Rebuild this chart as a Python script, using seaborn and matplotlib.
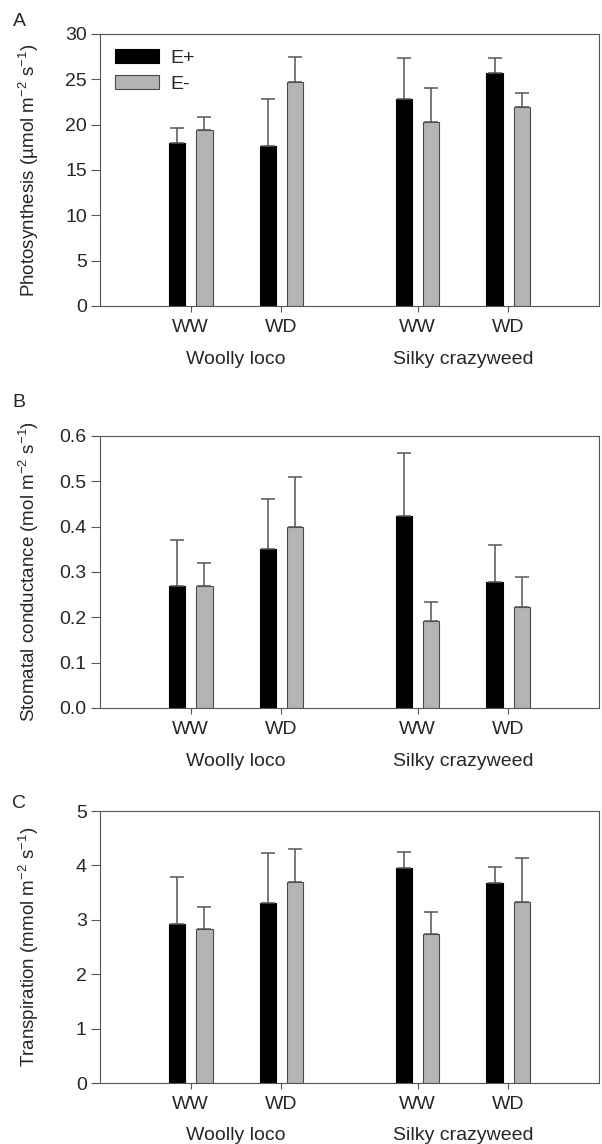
import seaborn as sns
import matplotlib.pyplot as plt
import pandas as pd

# Data (mean, and upper error = SE)
species = ["Woolly loco", "Woolly loco", "Silky crazyweed", "Silky crazyweed"]
water = ["WW", "WD", "WW", "WD"]
status = ["E+", "E-"]

photo_eplus = [18.0, 17.6, 22.8, 25.7]
photo_eplus_err = [1.6, 5.2, 4.5, 1.7]
photo_eminus = [19.4, 24.7, 20.3, 22.0]
photo_eminus_err = [1.4, 2.8, 3.7, 1.5]

gs_eplus = [0.27, 0.35, 0.424, 0.278]
gs_eplus_err = [0.10, 0.11, 0.139, 0.082]
gs_eminus = [0.27, 0.40, 0.192, 0.222]
gs_eminus_err = [0.05, 0.11, 0.041, 0.067]

tr_eplus = [2.92, 3.31, 3.96, 3.67]
tr_eplus_err = [0.87, 0.92, 0.29, 0.30]
tr_eminus = [2.83, 3.70, 2.74, 3.32]
tr_eminus_err = [0.40, 0.61, 0.40, 0.81]

# layout: gap between the two species groups
xpos = [1, 2, 3.5, 4.5]

sns.set_theme(style="ticks")
plt.rcParams["font.family"] = ["Liberation Sans", "DejaVu Sans"]
plt.rcParams["mathtext.default"] = "regular"
plt.rcParams["axes.edgecolor"] = "#555555"
plt.rcParams["axes.linewidth"] = 0.8

panels = [
    ("A", photo_eplus, photo_eplus_err, photo_eminus, photo_eminus_err,
     "Photosynthesis (µmol m$^{-2}$ s$^{-1}$)", (0, 30), [0, 5, 10, 15, 20, 25, 30], "{:.0f}"),
    ("B", gs_eplus, gs_eplus_err, gs_eminus, gs_eminus_err,
     "Stomatal conductance (mol m$^{-2}$ s$^{-1}$)", (0, 0.6), [0, 0.1, 0.2, 0.3, 0.4, 0.5, 0.6], "{:.1f}"),
    ("C", tr_eplus, tr_eplus_err, tr_eminus, tr_eminus_err,
     "Transpiration (mmol m$^{-2}$ s$^{-1}$)", (0, 5), [0, 1, 2, 3, 4, 5], "{:.0f}"),
]

W, H = 602, 1144
fig = plt.figure(figsize=(W / 100, H / 100), dpi=100)
tops = [34, 436, 811]
letter_y = [21, 402, 804]
ax_h = 272
fs = 14

for (letter, ep, ep_err, em, em_err, ylab, ylim, yticks, fmt), top, ly in zip(panels, tops, letter_y):
    ax = fig.add_axes([100 / W, 1 - (top + ax_h) / H, 499 / W, ax_h / H])
    df = pd.DataFrame({
        "x": xpos * 2,
        "value": ep + em,
        "err": ep_err + em_err,
        "status": ["E+"] * 4 + ["E-"] * 4,
    })
    sns.barplot(data=df, x="x", y="value", hue="status", hue_order=status,
                palette={"E+": "black", "E-": "#b4b4b4"}, native_scale=True,
                width=0.6, gap=0.4, errorbar=None, saturation=1, legend=False, ax=ax)
    edge = {"E+": "black", "E-": "#4a4a4a"}
    for cont, st in zip(ax.containers, status):
        sub = df[df["status"] == st]
        xs = []
        for p in cont.patches:
            p.set_edgecolor(edge[st])
            p.set_linewidth(0.8)
            xs.append(p.get_x() + p.get_width() / 2)
        ax.errorbar(xs, sub["value"], yerr=[[0] * len(sub), sub["err"]], fmt="none",
                    ecolor="#555555", elinewidth=1.1, capsize=4.7, capthick=1.1, zorder=1)
    ax.set_xlim(0, 5.5)
    ax.set_ylim(*ylim)
    ax.set_yticks(yticks, [fmt.format(v) for v in yticks])
    ax.set_xticks(xpos, water)
    ax.tick_params(axis="y", length=6.5, width=0.8, color="#555555", labelsize=fs, pad=3)
    ax.tick_params(axis="x", length=4.3, width=0.8, color="#555555", labelsize=fs, pad=5)
    ax.set_xlabel("")
    ax.set_ylabel(ylab, fontsize=13.5)
    ax.yaxis.set_label_coords(-0.119, 0.5)
    for sp in ax.spines.values():
        sp.set_visible(True)
    for name in ["Woolly loco", "Silky crazyweed"]:
        gx = sum(x for x, s in zip(xpos, species) if s == name) / 2
        ax.text(gx, -53 / ax_h, name, transform=ax.get_xaxis_transform(),
                ha="center", va="center", fontsize=fs)
    fig.text(19 / W, 1 - ly / H, letter, ha="center", va="center", fontsize=fs)
    if letter == "A":
        ax.legend(ax.containers, status, loc="upper left", frameon=False,
                  bbox_to_anchor=(-0.006, 1.01), fontsize=fs,
                  handlelength=2.3, handleheight=0.72, handletextpad=0.55, labelspacing=0.45)

fig.savefig("out.png", dpi=100)
